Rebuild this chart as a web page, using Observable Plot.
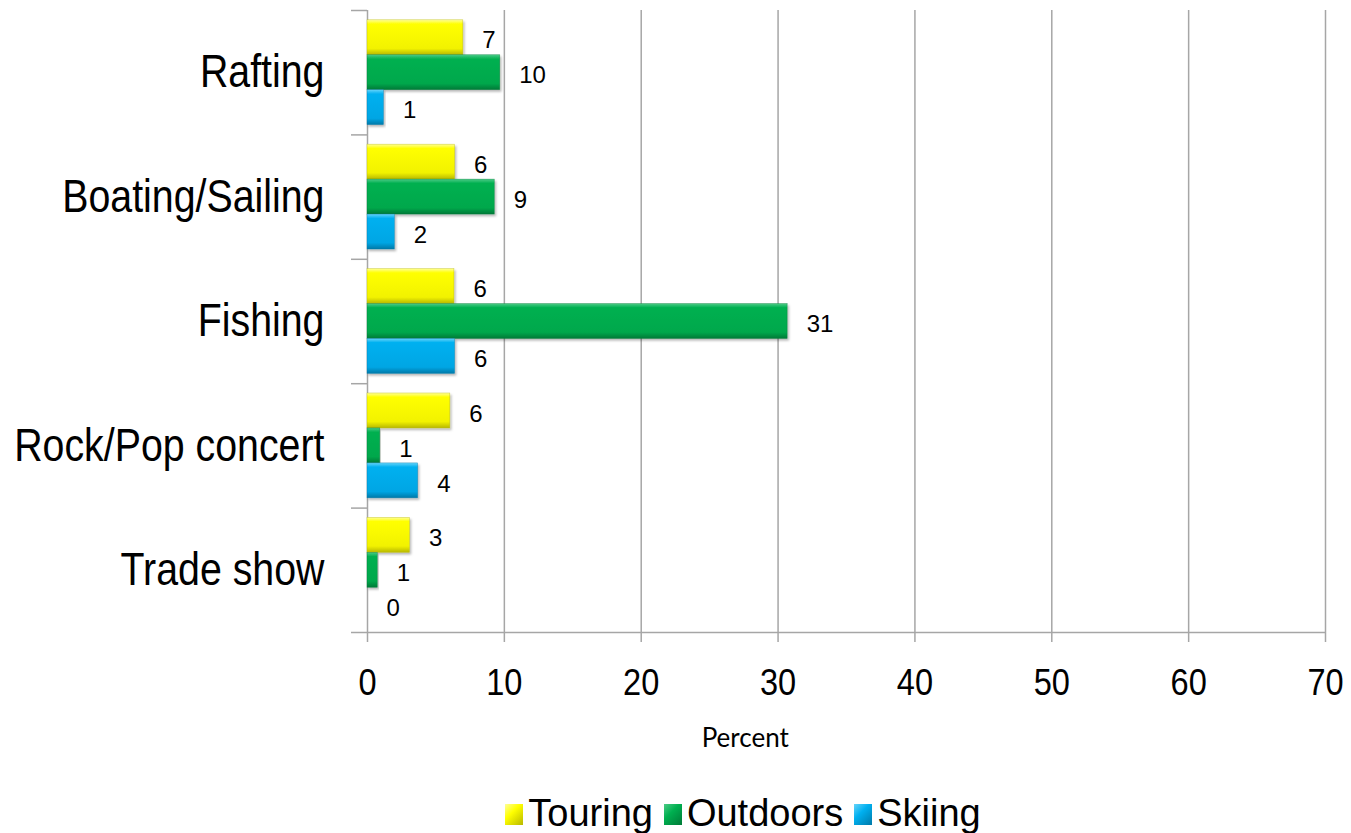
<!DOCTYPE html>
<html>
<head>
<meta charset="utf-8">
<script src="https://cdn.jsdelivr.net/npm/d3@7"></script>
<script src="https://cdn.jsdelivr.net/npm/@observablehq/plot@0.6"></script>
<style>
  html, body { margin: 0; padding: 0; background: #fff; }
  #chart { width: 1351px; height: 760px; }
  .legend { display: flex; justify-content: center; align-items: flex-end; height: 73px;
            font-family: "Liberation Sans", Arial, sans-serif; font-size: 38px; line-height: 1; color: #000;
            padding-left: 146px; padding-bottom: 1px; box-sizing: border-box; }
  .legend .item { display: flex; align-items: flex-end; margin-right: 11px; }
  .legend .sw { width: 18px; height: 21px; margin-right: 5px; margin-bottom: 7px; }
</style>
</head>
<body>
<div id="chart"></div>
<script>
// ---- data ----
const categories = ["Rafting", "Boating/Sailing", "Fishing", "Rock/Pop concert", "Trade show"];
const seriesNames = ["Touring", "Outdoors", "Skiing"];
const touring  = [7.0, 6.4, 6.35, 6.05, 3.1];
const outdoors = [9.7, 9.3, 30.7, 0.93, 0.75];
const skiing   = [1.2, 2.0, 6.4, 3.7, 0];
const xTicks = [0, 10, 20, 30, 40, 50, 60, 70];
const xLabel = "Percent";
const colors = {Touring: "#FFFF00", Outdoors: "#00B050", Skiing: "#00B0F0"};

const seriesValues = {Touring: touring, Outdoors: outdoors, Skiing: skiing};
const rows = [];
categories.forEach((c, i) => {
  seriesNames.forEach(s => rows.push({category: c, index: i, series: s, value: seriesValues[s][i]}));
});

// band layout of the three series inside one category slot
const inner = d3.scaleBand().domain(seriesNames).range([0, 1]).paddingInner(0).paddingOuter(0.28);
const y1 = d => d.index + inner(d.series);
const y2 = d => d.index + inner(d.series) + inner.bandwidth();
const yc = d => d.index + inner(d.series) + inner.bandwidth() / 2;

const gradients = {
  Touring:  ["#FFFF99", "#FFFF00", "#F2F200", "#B8B800"],
  Outdoors: ["#4CCB86", "#00B050", "#00A84C", "#007A37"],
  Skiing:   ["#66D4FA", "#00B0F0", "#00A6E4", "#0079A8"]
};
const defs = () => {
  const d = d3.create("svg:defs");
  seriesNames.forEach((s, k) => {
    const g = d.append("linearGradient").attr("id", "grad" + k).attr("x1", 0).attr("y1", 0).attr("x2", 0).attr("y2", 1);
    const c = gradients[s];
    g.append("stop").attr("offset", "0").attr("stop-color", c[0]);
    g.append("stop").attr("offset", "0.12").attr("stop-color", c[1]);
    g.append("stop").attr("offset", "0.82").attr("stop-color", c[2]);
    g.append("stop").attr("offset", "1").attr("stop-color", c[3]);
  });
  const f = d.append("filter").attr("id", "shadow").attr("x", "-5%").attr("y", "-20%").attr("width", "115%").attr("height", "160%");
  f.append("feDropShadow").attr("dx", 1.5).attr("dy", 2).attr("stdDeviation", 1.2).attr("flood-color", "#000").attr("flood-opacity", 0.28);
  return d.node();
};

const sans = "'Liberation Sans', Arial, sans-serif";
const gray = "#A6A6A6";
const plot = Plot.plot({
  width: 1351,
  height: 760,
  marginLeft: 367,
  marginRight: 26,
  marginTop: 10,
  marginBottom: 128,
  style: {fontFamily: sans, background: "#fff", color: "#000"},
  x: {domain: [0, 70], label: null},
  y: {domain: [0, 5], reverse: true, label: null, axis: null},
  marks: [
    defs,
    Plot.gridX(xTicks.slice(1), {stroke: gray, strokeOpacity: 1, strokeWidth: 1.5}),
    Plot.ruleX([0], {stroke: gray, strokeWidth: 1.5}),
    Plot.ruleY([5], {stroke: gray, strokeWidth: 1.5}),
    Plot.axisX(xTicks, {tickSize: 10, tickPadding: 26, stroke: gray, strokeWidth: 1.5, fill: "#000",
      fontSize: 37, fontFamily: sans, label: null}),
    Plot.axisY([0, 1, 2, 3, 4, 5], {tickSize: 16, tickFormat: () => "", stroke: gray, strokeWidth: 1.5, label: null}),
    Plot.axisY(categories.map((c, i) => i + 0.5), {
      tickSize: 0, tickPadding: 43, fontSize: 46, fill: "#000", fontFamily: sans,
      tickFormat: v => categories[Math.floor(v)], label: null
    }),
    Plot.rectX(rows, {
      x1: 0, x2: "value", y1, y2,
      fill: d => "url(#grad" + seriesNames.indexOf(d.series) + ")",
      filter: d => d.value > 0,
      stroke: d => gradients[d.series][3], strokeWidth: 0.6, strokeOpacity: 0.6
    }),
    Plot.text(rows, {
      x: "value", y: yc, text: d => String(Math.round(d.value)),
      textAnchor: "start", dx: 19, dy: 3, fontSize: 24, fill: "#000", fontFamily: sans
    }),
    Plot.text([xLabel], {
      x: 27.6, frameAnchor: "bottom", dy: 106, text: d => d, lineAnchor: "middle",
      fontFamily: "Lato, 'Open Sans', sans-serif", fontSize: 26, fill: "#000"
    })
  ]
});
// apply drop shadow to the bars
d3.select(plot).selectAll("g[aria-label='rect'] rect").attr("filter", "url(#shadow)");

// horizontally condense text (the reference type is narrow)
function condense(sel, s) {
  sel.each(function() {
    const t = d3.select(this);
    let tr = t.attr("transform");
    if (!tr) {
      const x = +t.attr("x") || 0, y = +t.attr("y") || 0;
      t.attr("x", null).attr("y", null);
      tr = `translate(${x},${y})`;
    }
    t.attr("transform", tr + ` scale(${s},1)`);
  });
}
condense(d3.select(plot).selectAll("g[aria-label='y-axis tick label'] text"), 0.855);
condense(d3.select(plot).selectAll("g[aria-label='x-axis tick label'] text"), 0.88);
document.getElementById("chart").appendChild(plot);

const legend = d3.select("body").append("div").attr("class", "legend");
seriesNames.forEach((s, k) => {
  const it = legend.append("div").attr("class", "item");
  it.append("div").attr("class", "sw").style("background", `linear-gradient(135deg, ${gradients[s][0]}, ${colors[s]} 40%, ${gradients[s][3]})`);
  it.append("span").text(s);
});
</script>
</body>
</html>
